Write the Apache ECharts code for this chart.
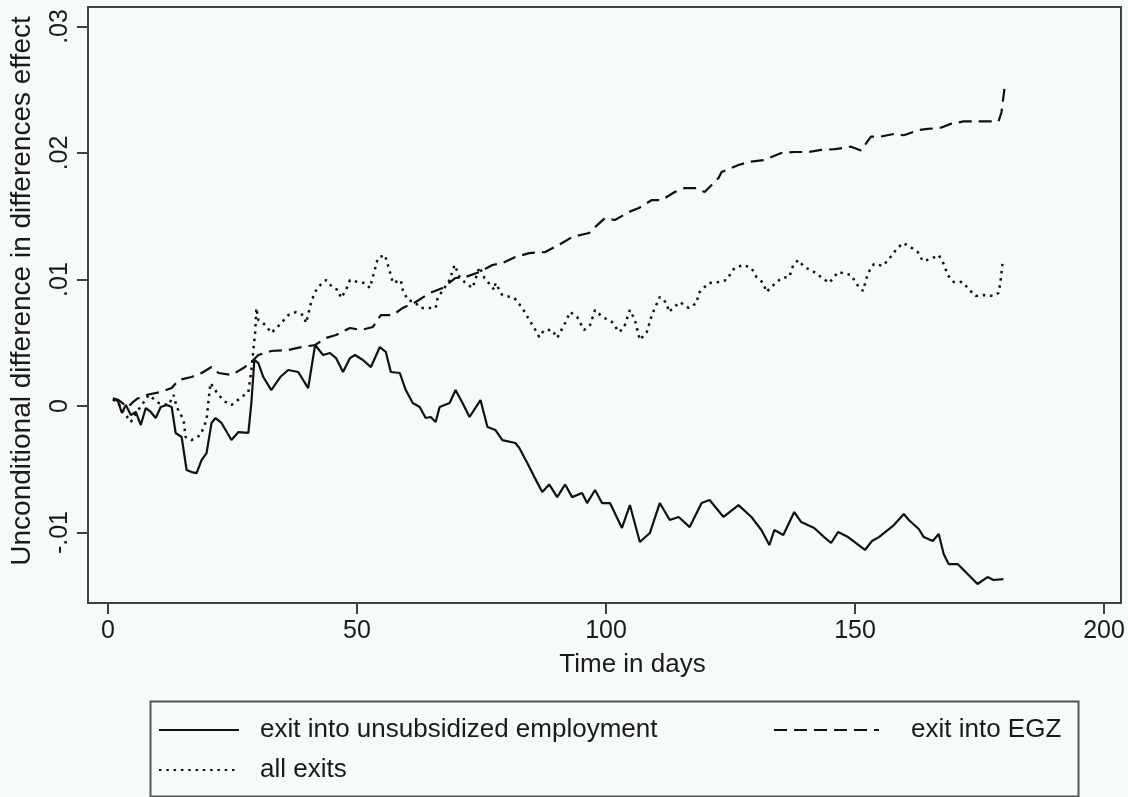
<!DOCTYPE html>
<html>
<head>
<meta charset="utf-8">
<script src="https://cdn.jsdelivr.net/npm/echarts@6/dist/echarts.min.js"></script>
<style>
html,body{margin:0;padding:0;background:#f6faf8;}
#chart{width:1128px;height:797px;}
</style>
</head>
<body>
<div id="chart"></div>
<script>
// ---- data ----
const xTicks = [0, 50, 100, 150, 200];
const yTicks = [-0.01, 0, 0.01, 0.02, 0.03];
const yTickLabels = ['-.01', '0', '.01', '.02', '.03'];
const xTitle = 'Time in days';
const yTitle = 'Unconditional difference in differences effect';
const seriesNames = ['exit into unsubsidized employment', 'exit into EGZ', 'all exits'];

const unsubDays = [1,2,2.8,3.6,4.6,5.6,6.6,7.6,8.6,9.6,10.6,11.8,12.8,13.6,14.8,15.8,16.8,17.8,18.8,19.8,20.8,21.6,22.8,24.8,26.2,28.2,28.8,29.4,30.2,31.2,32.8,34.6,36.2,38.2,40.2,41.6,43.2,44.6,45.8,47.2,48.6,49.6,51.2,52.8,54.6,55.8,56.8,58.6,59.8,61.2,62.6,63.8,64.8,65.8,66.6,68.6,69.8,71.2,72.6,74.8,76.2,77.8,79.2,81.8,82.6,84.2,85.6,87.2,88.6,90.2,91.8,93.2,95.2,96.2,97.8,99.2,100.8,103.2,104.8,106.8,108.8,110.8,112.8,114.6,116.8,119.2,120.8,123.6,126.6,129.2,131.2,132.8,133.8,135.6,137.8,139.2,141.8,143.8,145.2,146.6,148.6,150.4,152.0,153.4,154.8,157.8,159.8,160.8,162.8,163.8,165.6,166.8,167.8,168.8,170.6,172.8,174.6,176.6,177.8,179.8];
const unsubVals = [0.0006,0.0004,-0.00055,0.00008,-0.00071,-0.00047,-0.0015,-0.00016,-0.00047,-0.00095,-0.00008,0.00008,-0.00008,-0.00213,-0.00245,-0.00506,-0.00522,-0.0053,-0.00427,-0.00372,-0.00134,-0.00095,-0.00134,-0.00269,-0.00206,-0.00213,0.00024,0.00364,0.0034,0.00229,0.00126,0.00229,0.00285,0.00269,0.00142,0.00482,0.00403,0.00419,0.00379,0.00269,0.00379,0.00403,0.00364,0.00308,0.00466,0.00427,0.00269,0.00261,0.00126,0.00024,-0.00008,-0.00095,-0.00087,-0.00126,-0.00008,0.00024,0.00126,0.00024,-0.00087,0.00047,-0.00166,-0.0019,-0.00269,-0.00292,-0.00332,-0.0045,-0.0056,-0.0068,-0.0062,-0.0072,-0.0062,-0.0072,-0.00688,-0.00767,-0.00664,-0.00767,-0.00767,-0.00964,-0.00783,-0.01075,-0.01004,-0.00767,-0.00901,-0.00877,-0.00957,-0.00767,-0.00743,-0.00877,-0.00783,-0.00877,-0.0098,-0.01099,-0.0098,-0.0102,-0.00838,-0.00917,-0.00964,-0.01036,-0.01083,-0.00996,-0.01036,-0.0109,-0.01138,-0.01067,-0.01036,-0.00941,-0.00854,-0.00901,-0.00972,-0.01036,-0.01067,-0.01012,-0.0117,-0.01249,-0.01249,-0.01336,-0.01407,-0.01352,-0.01375,-0.01368];

const egzDays = [1,2,3,4,5,6,7.6,10.6,12.8,14.2,16.8,18.8,20.8,22.2,24.8,27.2,28.8,30.2,32.8,36.2,38.8,41.6,43.8,45.8,48.6,50.8,53.2,54.8,57.2,59.2,61.8,64.6,67.2,69.8,71.8,74.6,77.2,79.2,81.8,84.6,87.8,91.2,93.2,96.6,97.6,99.8,101.8,104.6,106.6,109.2,111.2,113.8,115.8,118.2,119.8,122.6,123.2,126.6,128.6,131.8,135.2,137.8,140.6,143.2,146,149.2,151.2,153.2,155.2,157.8,159.8,162.6,164.6,167.2,169.2,171.8,174.6,178.8,179.4,180];
const egzVals = [0.0006,0.0005,0.0002,-0.0001,0.0003,0.0006,0.00087,0.00111,0.00142,0.00206,0.00229,0.00261,0.00308,0.00261,0.00245,0.003,0.00348,0.00403,0.00435,0.00443,0.00466,0.00482,0.00538,0.00561,0.00617,0.00601,0.00625,0.00719,0.00719,0.00775,0.00822,0.00893,0.00933,0.01012,0.0102,0.01059,0.01115,0.0113,0.01178,0.01209,0.01217,0.01289,0.01336,0.01368,0.01407,0.01486,0.0147,0.01534,0.01565,0.01628,0.01628,0.01692,0.01723,0.01723,0.01692,0.01802,0.0185,0.01905,0.01929,0.01945,0.02,0.02008,0.02008,0.02024,0.0203,0.0205,0.0202,0.0213,0.0213,0.0215,0.0214,0.0218,0.0219,0.022,0.0223,0.0225,0.0225,0.0225,0.0232,0.0251];

const allDays = [1,2,3,4.6,5.6,6.8,8.2,10.2,12.2,13.2,13.8,15.2,15.6,16.8,18.6,19.8,20.2,20.6,22.2,23.6,24.8,26.6,28.2,28.8,29.2,29.6,29.8,30.2,31.6,32.8,34.8,36.2,37.8,39.2,39.8,40.8,41.6,42.2,43.8,45.2,46.2,46.8,47.8,48.6,50.2,51.6,52.6,53.2,54.2,55.6,56.2,56.8,57.2,58.8,59.2,60.2,61.6,62.8,64.6,65.8,66.2,68.6,69.6,70.6,71.8,73.2,74.6,75.6,77.6,77.8,79.2,81.6,83.2,84.6,85.6,86.6,87.6,89.2,90.2,91.8,92.8,94.2,95.6,96.8,97.8,99.2,101.2,102.6,103.6,104.8,105.8,106.8,108.2,109.2,110.8,112.2,112.6,114.8,116.6,118.2,118.6,120.6,122.6,124.2,125.8,127.6,129.2,130.2,131.6,132.2,133.2,135.2,136.8,137.6,138.6,139.8,141.8,144.8,146.6,149.2,150.4,151.6,152.6,153.8,155.6,156.8,158.2,159.6,160.8,162.6,163.6,165.2,166.8,167.8,168.6,169.8,171.6,172.8,174.2,175.8,177.8,178.8,179.2,179.6];
const allVals = [0.0005,0.0003,-0.0004,-0.00126,-0.0006,0.00008,0.00087,0.00024,0.00008,0.00087,-0.00008,-0.00111,-0.00245,-0.00269,-0.00229,-0.00111,0.00047,0.00182,0.00087,0.00032,0.00008,0.00063,0.00111,0.00285,0.00443,0.00601,0.00775,0.0068,0.0064,0.00577,0.00656,0.00719,0.00743,0.00719,0.00656,0.00822,0.00901,0.00941,0.00996,0.00933,0.00917,0.00854,0.00917,0.00996,0.0098,0.00972,0.00933,0.0102,0.0117,0.01194,0.01115,0.01036,0.00972,0.00996,0.00917,0.00838,0.00822,0.00775,0.00775,0.00775,0.00854,0.00996,0.01115,0.0102,0.00972,0.00933,0.01099,0.01012,0.00917,0.00972,0.00877,0.00854,0.00775,0.0068,0.00617,0.00545,0.00601,0.00601,0.00538,0.00656,0.00743,0.00704,0.00601,0.0064,0.00759,0.00706,0.00664,0.00585,0.00617,0.00759,0.0068,0.00522,0.00585,0.00719,0.00862,0.00814,0.00743,0.00822,0.00775,0.00814,0.00893,0.00972,0.0098,0.00996,0.01091,0.01115,0.01091,0.0102,0.00972,0.00901,0.00941,0.01012,0.0102,0.01115,0.01154,0.01099,0.01059,0.00972,0.01059,0.01036,0.0096,0.00909,0.01051,0.01123,0.01107,0.01162,0.01233,0.01289,0.01265,0.01217,0.01146,0.01162,0.01194,0.01123,0.01036,0.0098,0.0098,0.00925,0.0087,0.00877,0.0087,0.00893,0.0098,0.01123];

// ---- chart ----
const FONT = '"Liberation Sans", Arial, Helvetica, sans-serif';
const INK = '#111111';
const FRAME = '#404040';
const TXT = '#1a1a1a';

function pairs(xs, ys) { return xs.map((x, i) => [x, ys[i]]); }

const chart = echarts.init(document.getElementById('chart'), null, {renderer: 'canvas'});

function legendAt(name, left, top, width, pad) {
  return {
    data: [name], left: left, top: top, padding: 0,
    orient: 'horizontal', itemWidth: width, itemHeight: 14, selectedMode: false,
    textStyle: {fontFamily: FONT, fontSize: 26, color: TXT, padding: [0, 0, 0, pad]},
    itemStyle: {opacity: 0, borderWidth: 0}
  };
}

chart.setOption({
  animation: false,
  backgroundColor: '#f6faf8',
  grid: {left: 84, right: 7, top: 7, bottom: 194, show: true, borderColor: FRAME, borderWidth: 2, backgroundColor: 'transparent'},
  xAxis: {
    type: 'value', min: -4, max: 203.4,
    name: xTitle, nameLocation: 'middle', nameGap: 49,
    nameTextStyle: {fontFamily: FONT, fontSize: 26, color: TXT, padding: [0, 0, 0, 56]},
    axisLine: {show: false, onZero: false},
    axisTick: {show: true, inside: false, length: 11, customValues: xTicks, lineStyle: {color: FRAME, width: 2}},
    axisLabel: {customValues: xTicks, margin: 16, fontFamily: FONT, fontSize: 25, color: TXT,
      formatter: v => String(v)},
    splitLine: {show: false}
  },
  yAxis: {
    type: 'value', min: -0.01557, max: 0.03154,
    name: yTitle, nameLocation: 'middle', nameGap: 52, nameRotate: 90,
    nameTextStyle: {fontFamily: FONT, fontSize: 28, color: TXT, padding: [0, 0, 0, 28]},
    axisLine: {show: false, onZero: false},
    axisTick: {show: true, inside: false, length: 11, customValues: yTicks, lineStyle: {color: FRAME, width: 2}},
    axisLabel: {customValues: yTicks, rotate: 90, margin: 15, fontFamily: FONT, fontSize: 25, color: TXT,
      formatter: v => { const i = yTicks.findIndex(t => Math.abs(t - v) < 1e-9); return i >= 0 ? yTickLabels[i] : ''; }},
    splitLine: {show: false}
  },
  legend: [
    legendAt(seriesNames[0], 158, 717, 80, 16),
    legendAt(seriesNames[1], 773, 717, 105, 27),
    legendAt(seriesNames[2], 158, 757, 80, 16)
  ],
  graphic: [{
    type: 'rect', left: 148, top: 699, silent: true,
    shape: {width: 928, height: 95},
    style: {fill: 'none', stroke: '#555555', lineWidth: 2}
  }],
  series: [
    {name: seriesNames[0], type: 'line', data: pairs(unsubDays, unsubVals), symbol: 'none', showSymbol: false,
      lineStyle: {color: INK, width: 2.2, type: 'solid'}, itemStyle: {color: INK}},
    {name: seriesNames[1], type: 'line', data: pairs(egzDays, egzVals), symbol: 'none', showSymbol: false,
      lineStyle: {color: INK, width: 2.2, type: [13, 7]}, itemStyle: {color: INK}},
    {name: seriesNames[2], type: 'line', data: pairs(allDays, allVals), symbol: 'none', showSymbol: false,
      lineStyle: {color: INK, width: 2.5, type: [2.5, 4.8]}, itemStyle: {color: INK}}
  ]
});
</script>
</body>
</html>
